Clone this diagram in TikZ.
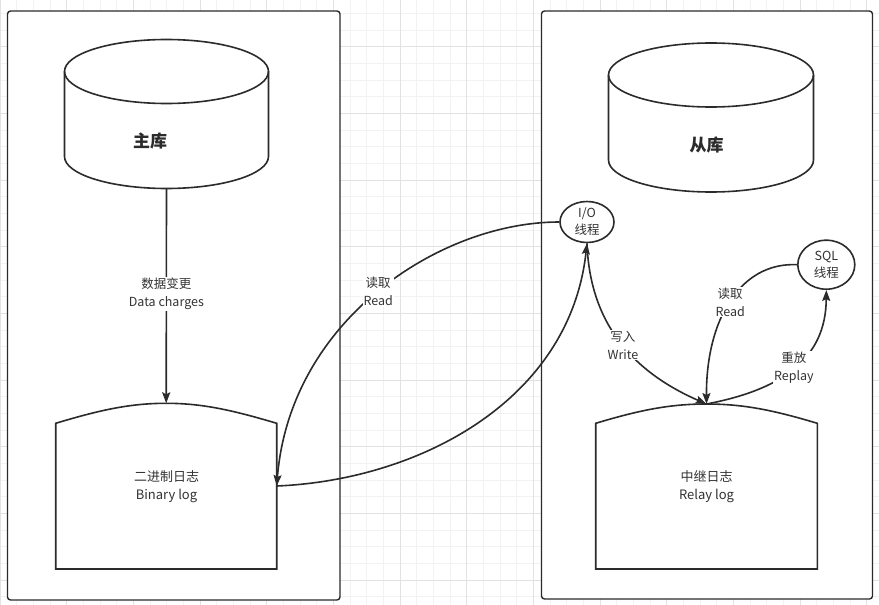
\documentclass[tikz,border=0pt]{standalone}
\usepackage{fontspec}
\setmainfont{Noto Sans CJK SC}
\usetikzlibrary{arrows.meta,shapes.geometric}
\definecolor{gridminor}{HTML}{F2F2F2}
\definecolor{gridmajor}{HTML}{E2E2E2}
\definecolor{ink}{HTML}{2B2B2B}
\definecolor{txt}{HTML}{333333}
\tikzset{
  shapeline/.style={draw=ink, line width=1.6pt, fill=white},
  frame/.style={draw=ink, line width=1.4pt, fill=white, rounded corners=3pt},
  conn/.style={draw=ink, line width=1.6pt, -{Stealth[length=11pt,width=8pt,inset=2pt]}},
  lbl/.style={fill=white, inner sep=1pt, text=txt, font=\fontsize{12.5}{18}\selectfont, align=center},
  inlbl/.style={text=txt, font=\fontsize{13}{18}\selectfont, align=center},
  dblbl/.style={text=ink, font=\bfseries\fontsize{17}{19}\selectfont},
  thread/.style={shapeline, ellipse, inner sep=0pt, font=\fontsize{12.5}{17}\selectfont, text=txt, align=center},
}
\begin{document}
\begin{tikzpicture}[x=1pt,y=-1pt]
\useasboundingbox (0,0) rectangle (879,605);
\fill[white] (0,0) rectangle (879,605);
% grid
\foreach \i in {0,...,53} {
  \draw[gridminor, line width=0.6pt] ({\i*16.667},0) -- ({\i*16.667},605);
}
\foreach \i in {0,...,36} {
  \draw[gridminor, line width=0.6pt] (0,{13.33+\i*16.667}) -- (879,{13.33+\i*16.667});
}
\foreach \i in {0,...,13} {
  \draw[gridmajor, line width=0.7pt] ({\i*66.667},0) -- ({\i*66.667},605);
}
\foreach \i in {-1,...,8} {
  \draw[gridmajor, line width=0.7pt] (0,{46.67+\i*66.667}) -- (879,{46.67+\i*66.667});
}
% frames
\path[frame] (7.5,11) rectangle (340,600);
\path[frame] (541.5,11) rectangle (872.5,599);
% master cylinder
\path[shapeline] (64.5,71.5) -- (64.5,156.5) arc[start angle=180,end angle=0,x radius=102,y radius=32] -- (268.5,71.5) arc[start angle=0,end angle=-180,x radius=102,y radius=32] -- cycle;
\draw[ink, line width=1.6pt] (64.5,71.5) arc[start angle=180,end angle=0,x radius=102,y radius=32];
\node[dblbl] (master) at (150,141) {主库};
\coordinate (masterbot) at (166.5,188.5);
% slave cylinder
\path[shapeline] (608.5,75) -- (608.5,160) arc[start angle=180,end angle=0,x radius=102.5,y radius=32] -- (813.5,75) arc[start angle=0,end angle=-180,x radius=102.5,y radius=32] -- cycle;
\draw[ink, line width=1.6pt] (608.5,75) arc[start angle=180,end angle=0,x radius=102.5,y radius=32];
\node[dblbl] (slave) at (706.5,145.5) {从库};
% binary log
\path[shapeline] (55.7,423.3) .. controls (100,410) and (130,403.3) .. (166.2,403.3) .. controls (202,403.3) and (232,410) .. (276.7,423.3) -- (276.7,569) -- (55.7,569) -- cycle;
\coordinate (bintop) at (166.2,403.3);
\coordinate (binright) at (276.7,486);
\node[inlbl] (bin) at (166.5,487) {二进制日志\\Binary log};
% relay log
\path[shapeline] (595.7,423.3) .. controls (640,410) and (670,404) .. (706.5,404) .. controls (743,404) and (773,410) .. (817.3,423.3) -- (817.3,569) -- (595.7,569) -- cycle;
\coordinate (relaytop) at (706.5,404);
\node[inlbl] (relay) at (706.5,487) {中继日志\\Relay log};
% threads
\node[thread, minimum width=54pt, minimum height=41pt] (io) at (587,222) {I/O\\线程};
\node[thread, minimum width=57pt, minimum height=49pt] (sql) at (826.3,264.7) {SQL\\线程};
% connectors
\draw[conn] (masterbot) -- (bintop) node[lbl, pos=0.49] {数据变更\\Data charges};
\draw[conn] (io.west) .. controls (440,222) and (290,320) .. (binright) node[lbl, pos=0.5] {读取\\Read};
\draw[conn] (binright) .. controls (420,480) and (570,400) .. (io.south);
\draw[conn] (io.south) .. controls (590,330) and (640,375) .. (relaytop) node[lbl, pos=0.5] {写入\\Write};
\draw[conn] (sql.west) .. controls (740,262) and (706,320) .. (relaytop) node[lbl, pos=0.5] {读取\\Read};
\draw[conn] (relaytop) .. controls (780,390) and (826,360) .. (sql.south) node[lbl, pos=0.5] {重放\\Replay};
\end{tikzpicture}
\end{document}
